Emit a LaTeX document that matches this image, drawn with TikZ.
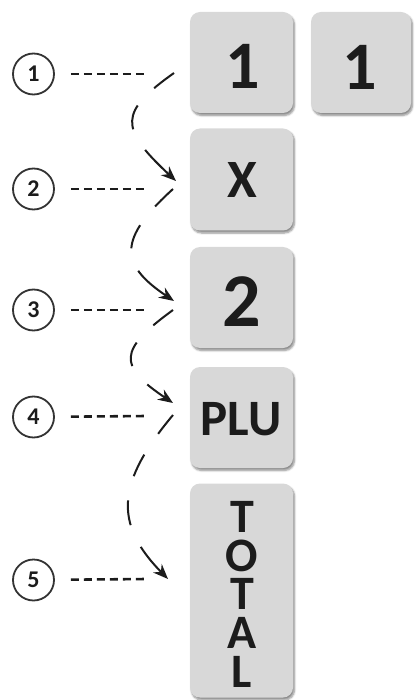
\documentclass[tikz,border=0pt]{standalone}
\usepackage{fontspec}
\setmainfont{Carlito}
\usetikzlibrary{arrows.meta,shadows,shadows.blur}
\definecolor{keygray}{RGB}{216,216,216}
\definecolor{ink}{RGB}{28,28,28}
\begin{document}
\begin{tikzpicture}[x=1pt,y=-1pt,
  keybox/.style={draw=none, fill=keygray, rounded corners=10pt, inner sep=0pt,
    blur shadow={shadow xshift=1.5pt, shadow yshift=-2.5pt, shadow blur steps=6,
      shadow blur extra rounding=1.5pt, shadow opacity=45}},
  keytext/.style={inner sep=0pt, text=ink, anchor=base, font=\bfseries},
  numcirc/.style={circle, draw=ink!90, line width=1.8pt, minimum size=41pt, inner sep=0pt,
    text=ink, font=\bfseries\fontsize{24}{24}\selectfont},
  guide/.style={draw=ink, line width=2.6pt, dash pattern=on 8pt off 5pt, shorten <=16pt},
  flow/.style={draw=ink, line width=2pt, -{Stealth[length=15pt,width=12pt]}},
  flowthree/.style={flow, dash pattern=on 25pt off 24pt on 25pt off 24pt on 400pt},
  flowfour/.style={flow, dash pattern=on 24pt off 25pt on 24pt off 25pt on 25pt off 24pt on 400pt}]
\useasboundingbox (0,0) rectangle (416,700);

% keys
\node[keybox, minimum width=103pt, minimum height=101pt] (k1)  at (241.5,62.5) {};
\node[keybox, minimum width=100pt, minimum height=101pt] (k1b) at (361,62.5) {};
\node[keybox, minimum width=103pt, minimum height=102pt] (kx)  at (241.5,179.5) {};
\node[keybox, minimum width=103pt, minimum height=101pt] (k2)  at (241.5,297.5) {};
\node[keybox, minimum width=103pt, minimum height=101pt] (kplu) at (241.5,417.5) {};
\node[keybox, minimum width=103pt, minimum height=214pt] (ktot) at (241.5,590.5) {};

\node[keytext, font=\bfseries\fontsize{68}{68}\selectfont] (t1)  at (242.5,89) {1};
\node[keytext, font=\bfseries\fontsize{68}{68}\selectfont] (t1b) at (360,90) {1};
\node[keytext, font=\bfseries\fontsize{54}{54}\selectfont] (tx)  at (242,198) {X};
\node[keytext, font=\bfseries\fontsize{76}{76}\selectfont] (t2)  at (242,326) {2};
\node[keytext, font=\bfseries\fontsize{51}{51}\selectfont] (tplu) at (241,435) {PLU};
\node[inner sep=0pt, text=ink, anchor=north, align=center,
      font=\bfseries\fontsize{48}{38.7}\selectfont] (ttot) at (242,501) {T\\O\\T\\A\\L};

% numbered circles
\node[numcirc] (c1) at (33.5,74) {1};
\node[numcirc] (c2) at (33.5,189) {2};
\node[numcirc] (c3) at (33.5,310) {3};
\node[numcirc] (c4) at (33.5,417) {4};
\node[numcirc] (c5) at (33.5,580) {5};

\coordinate (h1) at (147,74);
\coordinate (h2) at (147,189);
\coordinate (h3) at (147,310);
\coordinate (h4) at (147,416);
\coordinate (h5) at (147,579);
\draw[guide] (c1) -- (h1);
\draw[guide] (c2) -- (h2);
\draw[guide] (c3) -- (h3);
\draw[guide] (c4) -- (h4);
\draw[guide] (c5) -- (h5);

% curved flow arrows
\coordinate (s1) at (174,73);  \coordinate (e1) at (176,181);
\coordinate (s2) at (173,189); \coordinate (e2) at (174,301);
\coordinate (s3) at (173,310); \coordinate (e3) at (173,403);
\coordinate (s4) at (173,415); \coordinate (e4) at (168,579);
\draw[flowthree] (s1) .. controls (119,112) and (119,128) .. (e1);
\draw[flowthree] (s2) .. controls (118,239) and (119,264) .. (e2);
\draw[flowthree] (s3) .. controls (118,350) and (118,366) .. (e3);
\draw[flowfour]  (s4) .. controls (117,482) and (113,523) .. (e4);
\end{tikzpicture}
\end{document}
